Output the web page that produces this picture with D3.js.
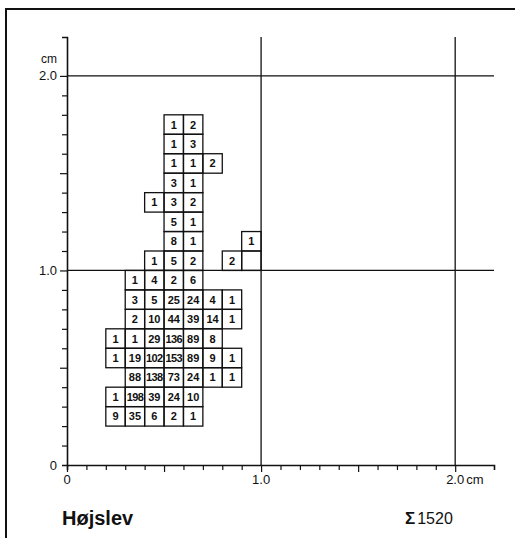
<!DOCTYPE html>
<html>
<head>
<meta charset="utf-8">
<script src="https://cdn.jsdelivr.net/npm/d3@7/dist/d3.min.js"></script>
<style>
  body { margin: 0; background: #fff; }
  svg { display: block; }
</style>
</head>
<body>
<div id="chart"></div>
<script>
// width (x, cm) / length (y, cm) grid, 0.1 cm classes; one entry per row
var rowY = [0.2, 0.3, 0.4, 0.5, 0.6, 0.7, 0.8, 0.9, 1.0, 1.1, 1.2, 1.3, 1.4, 1.5, 1.6, 1.7];
var rowStart = [0.2, 0.2, 0.3, 0.2, 0.2, 0.3, 0.3, 0.3, 0.4, 0.5, 0.5, 0.4, 0.5, 0.5, 0.5, 0.5];
// null = no cell, 0 = outlined empty cell
var rowCounts = [
  [9, 35, 6, 2, 1],
  [1, 198, 39, 24, 10],
  [88, 138, 73, 24, 1, 1],
  [1, 19, 102, 153, 89, 9, 1],
  [1, 1, 29, 136, 89, 8],
  [2, 10, 44, 39, 14, 1],
  [3, 5, 25, 24, 4, 1],
  [1, 4, 2, 6],
  [1, 5, 2, null, 2, 0],
  [8, 1, null, null, 1],
  [5, 1],
  [1, 3, 2],
  [3, 1],
  [1, 1, 2],
  [1, 3],
  [1, 2]
];
var gridLines = [1, 2];
var axisLabels = ['0', '1.0', '2.0'];
var siteName = 'Højslev';
var total = 1520;

var W = 515, H = 538;
var x = d3.scaleLinear().domain([0, 2.2]).range([67, 494]);
var y = d3.scaleLinear().domain([0, 2.2]).range([465, 37]);
var step = 0.1;

var cells = [];
rowY.forEach(function (ry, i) {
  rowCounts[i].forEach(function (n, j) {
    if (n === null) return;
    cells.push({ x: +(rowStart[i] + j * step).toFixed(1), y: ry, n: n });
  });
});

var svg = d3.select('#chart').append('svg').attr('width', W).attr('height', H)
  .style('font-family', '"Liberation Sans Narrow", "Liberation Sans", Arial, sans-serif');

// frame
svg.append('path').attr('d', 'M6,' + H + 'V9H' + W)
  .attr('fill', 'none').attr('stroke', '#111').attr('stroke-width', 2);

// grid lines at 1.0 and 2.0
svg.selectAll('line.gv').data(gridLines).enter().append('line')
  .attr('x1', function (d) { return x(d); }).attr('x2', function (d) { return x(d); })
  .attr('y1', y(2.2)).attr('y2', y(0))
  .attr('stroke', '#111').attr('stroke-width', 1.3);
svg.selectAll('line.gh').data(gridLines).enter().append('line')
  .attr('y1', function (d) { return y(d); }).attr('y2', function (d) { return y(d); })
  .attr('x1', x(0)).attr('x2', x(2.2))
  .attr('stroke', '#111').attr('stroke-width', 1.3);

// axes
var tickVals = d3.range(0, 21).map(function (i) { return i / 10; });
var xAxis = svg.append('g').attr('transform', 'translate(0,' + y(0) + ')')
  .call(d3.axisBottom(x).tickValues(tickVals).tickFormat('').tickSizeOuter(0).tickSize(5));
var yAxis = svg.append('g').attr('transform', 'translate(' + x(0) + ',0)')
  .call(d3.axisLeft(y).tickValues(tickVals.slice(1)).tickFormat('').tickSizeOuter(0).tickSize(5));
[xAxis, yAxis].forEach(function (g) {
  g.select('.domain').attr('stroke', '#111').attr('stroke-width', 1.6);
  g.selectAll('.tick line').attr('stroke', '#111').attr('stroke-width', 1.2);
});
xAxis.selectAll('.tick line').attr('y2', function (d) { return (Math.round(d * 10) % 5 === 0) ? 7 : 5; });
yAxis.selectAll('.tick line').attr('x2', function (d) { return (Math.round(d * 10) % 5 === 0) ? -7 : -5; });

// axis labels
svg.selectAll('text.yl').data([0, 1, 2]).enter().append('text')
  .attr('x', 57).attr('y', function (d) { return y(d) + 4.5; })
  .attr('text-anchor', 'end').attr('font-size', 13).attr('fill', '#111')
  .text(function (d, i) { return axisLabels[i]; });
svg.append('text').attr('x', 57).attr('y', 63).attr('text-anchor', 'end')
  .attr('font-size', 12).attr('fill', '#111').text('cm');
svg.selectAll('text.xl').data([0, 1, 2]).enter().append('text')
  .attr('x', function (d) { return x(d); }).attr('y', 484)
  .attr('text-anchor', 'middle').attr('font-size', 13).attr('fill', '#111')
  .text(function (d, i) { return axisLabels[i]; });
svg.append('text').attr('x', x(2) + 11).attr('y', 484)
  .attr('font-size', 13).attr('fill', '#111').text('cm');

// cells
var cw = x(step) - x(0), ch = y(0) - y(step);
var cg = svg.append('g');
cg.selectAll('rect').data(cells).enter().append('rect')
  .attr('x', function (d) { return x(d.x); })
  .attr('y', function (d) { return y(d.y + step); })
  .attr('width', cw).attr('height', ch)
  .attr('fill', 'none').attr('stroke', '#111').attr('stroke-width', 1.3);
cg.selectAll('text').data(cells.filter(function (d) { return d.n > 0; })).enter().append('text')
  .attr('x', function (d) { return x(d.x) + cw / 2; })
  .attr('y', function (d) { return y(d.y) - ch / 2 + 4; })
  .attr('text-anchor', 'middle').attr('font-size', 11).attr('font-weight', 'bold')
  .attr('letter-spacing', function (d) { return d.n >= 100 ? -0.6 : 0; })
  .attr('fill', '#111')
  .text(function (d) { return d.n; });

// caption
svg.append('text').attr('x', 62).attr('y', 525)
  .style('font-family', '"Liberation Sans", Arial, sans-serif')
  .attr('font-size', 20).attr('font-weight', 'bold').attr('fill', '#111').text(siteName);
var tot = svg.append('text').attr('x', 405).attr('y', 524)
  .style('font-family', '"Liberation Sans", Arial, sans-serif')
  .attr('font-size', 16).attr('fill', '#111');
tot.append('tspan').attr('font-weight', 'bold').attr('font-size', 17).text('Σ');
tot.append('tspan').attr('dx', 2).text(total);
</script>
</body>
</html>
